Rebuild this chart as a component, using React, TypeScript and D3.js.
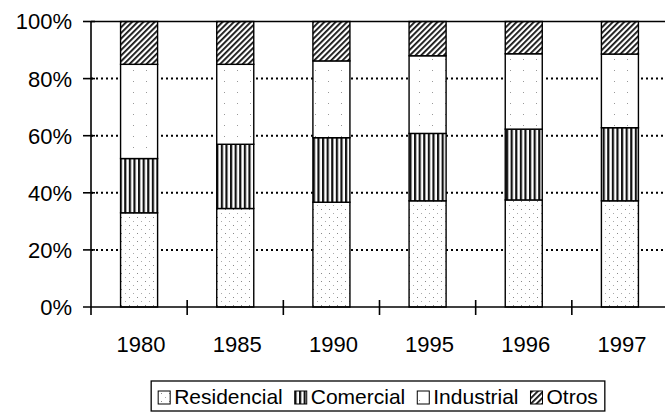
import React, { useEffect, useRef } from 'react';
import * as d3 from 'd3';

const years = ['1980', '1985', '1990', '1995', '1996', '1997'];
const residencial = [33, 34.5, 36.7, 37.2, 37.5, 37.2];
const comercial = [19, 22.5, 22.6, 23.6, 24.8, 25.6];
const industrial = [33, 28, 26.9, 27.2, 26.4, 25.8];
const otros = [15, 15, 13.8, 12, 11.3, 11.4];
const seriesNames = ['Residencial', 'Comercial', 'Industrial', 'Otros'];
const yTicks = [0, 20, 40, 60, 80, 100];

const W = 665;
const H = 412;

const App: React.FC = () => {
    const ref = useRef<SVGSVGElement>(null);

    useEffect(() => {
        const svg = d3.select(ref.current);
        svg.selectAll('*').remove();

        const font = '"Liberation Sans", Arial, sans-serif';
        const left = 91, right = 668, top = 21.5, bottom = 307;

        const rows = years.map((y, i) => ({
            year: y,
            Residencial: residencial[i],
            Comercial: comercial[i],
            Industrial: industrial[i],
            Otros: otros[i],
        }));

        const x = d3.scaleBand<string>()
            .domain(years)
            .range([left, right])
            .paddingInner(0.615)
            .paddingOuter(0.3075);
        const y = d3.scaleLinear().domain([0, 100]).range([bottom, top]);

        // patterns
        const defs = svg.append('defs');
        const dots = defs.append('pattern')
            .attr('id', 'p-res').attr('patternUnits', 'userSpaceOnUse')
            .attr('width', 8).attr('height', 8);
        dots.append('rect').attr('width', 8).attr('height', 8).attr('fill', '#fff');
        dots.append('rect').attr('x', 1).attr('y', 1).attr('width', 1).attr('height', 1).attr('fill', '#888');
        dots.append('rect').attr('x', 5).attr('y', 5).attr('width', 1).attr('height', 1).attr('fill', '#aaa');

        const sparse = defs.append('pattern')
            .attr('id', 'p-ind').attr('patternUnits', 'userSpaceOnUse')
            .attr('width', 13).attr('height', 11);
        sparse.append('rect').attr('width', 13).attr('height', 11).attr('fill', '#fff');
        sparse.append('rect').attr('x', 3).attr('y', 4).attr('width', 1).attr('height', 1).attr('fill', '#999');

        const stripes = defs.append('pattern')
            .attr('id', 'p-com').attr('patternUnits', 'userSpaceOnUse')
            .attr('width', 4.6).attr('height', 10);
        stripes.append('rect').attr('width', 4.6).attr('height', 10).attr('fill', '#fff');
        stripes.append('rect').attr('x', 0).attr('width', 2.2).attr('height', 10).attr('fill', '#111');

        const hatch = defs.append('pattern')
            .attr('id', 'p-otr').attr('patternUnits', 'userSpaceOnUse')
            .attr('width', 4).attr('height', 10)
            .attr('patternTransform', 'rotate(45)');
        hatch.append('rect').attr('width', 4).attr('height', 10).attr('fill', '#fff');
        hatch.append('rect').attr('width', 1.8).attr('height', 10).attr('fill', '#111');

        const fills: Record<string, string> = {
            Residencial: 'url(#p-res)',
            Comercial: 'url(#p-com)',
            Industrial: 'url(#p-ind)',
            Otros: 'url(#p-otr)',
        };

        // dotted gridlines
        svg.append('g')
            .selectAll('line')
            .data(yTicks.filter(t => t > 0 && t < 100))
            .enter()
            .append('line')
            .attr('x1', left).attr('x2', right)
            .attr('y1', d => y(d)).attr('y2', d => y(d))
            .attr('stroke', '#000')
            .attr('stroke-width', 2)
            .attr('stroke-dasharray', '2,3');

        // bars
        const stack = d3.stack<any>().keys(seriesNames);
        const layers = stack(rows);
        svg.append('g')
            .selectAll('g')
            .data(layers)
            .enter()
            .append('g')
            .attr('fill', d => fills[d.key])
            .selectAll('rect')
            .data(d => d)
            .enter()
            .append('rect')
            .attr('x', d => x(d.data.year)!)
            .attr('width', x.bandwidth())
            .attr('y', d => y(d[1]))
            .attr('height', d => y(d[0]) - y(d[1]))
            .attr('stroke', '#000')
            .attr('stroke-width', 1.4);

        // frame / axes
        const axis = svg.append('g').attr('stroke', '#000').attr('stroke-width', 1.6);
        axis.append('line').attr('x1', left).attr('x2', right).attr('y1', top).attr('y2', top);
        axis.append('line').attr('x1', left).attr('x2', left).attr('y1', top).attr('y2', bottom + 8);
        axis.append('line').attr('x1', left - 8).attr('x2', right).attr('y1', bottom).attr('y2', bottom);
        axis.selectAll('.yt')
            .data(yTicks.filter(t => t > 0))
            .enter()
            .append('line')
            .attr('x1', left - 8).attr('x2', left + 4)
            .attr('y1', d => y(d)).attr('y2', d => y(d));
        axis.selectAll('.xt')
            .data(d3.range(1, years.length))
            .enter()
            .append('line')
            .attr('x1', i => left + i * x.step()).attr('x2', i => left + i * x.step())
            .attr('y1', bottom - 7).attr('y2', bottom + 8);

        // y labels
        svg.append('g')
            .selectAll('text')
            .data(yTicks)
            .enter()
            .append('text')
            .attr('x', 72)
            .attr('y', d => y(d))
            .attr('dy', '0.36em')
            .attr('text-anchor', 'end')
            .style('font-family', font)
            .style('font-size', '22px')
            .text(d => `${d}%`);

        // x labels
        svg.append('g')
            .selectAll('text')
            .data(years)
            .enter()
            .append('text')
            .attr('x', d => x(d)! + x.bandwidth() / 2 + 2)
            .attr('y', 352)
            .attr('text-anchor', 'middle')
            .style('font-family', font)
            .style('font-size', '22px')
            .text(d => d);

        // legend
        const legend = svg.append('g');
        const box = legend.append('rect')
            .attr('fill', '#fff').attr('stroke', '#000').attr('stroke-width', 1.3);
        let cx = 0;
        const items: { name: string; ix: number; tx: number }[] = [];
        const texts = legend.selectAll('text')
            .data(seriesNames)
            .enter()
            .append('text')
            .attr('y', 404)
            .style('font-family', font)
            .style('font-size', '21px')
            .text(d => d);
        texts.each(function (d) {
            const w = (this as SVGTextElement).getComputedTextLength();
            items.push({ name: d, ix: cx, tx: cx + 16 });
            cx += 16 + w + 12;
        });
        const total = cx - 12;
        const start = 378 - total / 2;
        texts.attr('x', (_, i) => start + items[i].tx);
        legend.selectAll('.icon')
            .data(items)
            .enter()
            .append('rect')
            .attr('x', d => start + d.ix)
            .attr('y', 391)
            .attr('width', 12)
            .attr('height', 13)
            .attr('fill', d => fills[d.name])
            .attr('stroke', '#000')
            .attr('stroke-width', 1);
        box.attr('x', start - 7).attr('y', 381)
            .attr('width', total + 14).attr('height', 30);
    }, []);

    return (
        <svg
            ref={ref}
            width={W}
            height={H}
            style={{ position: 'absolute', left: 0, top: 0, background: '#fff' }}
        />
    );
};

export default App;
